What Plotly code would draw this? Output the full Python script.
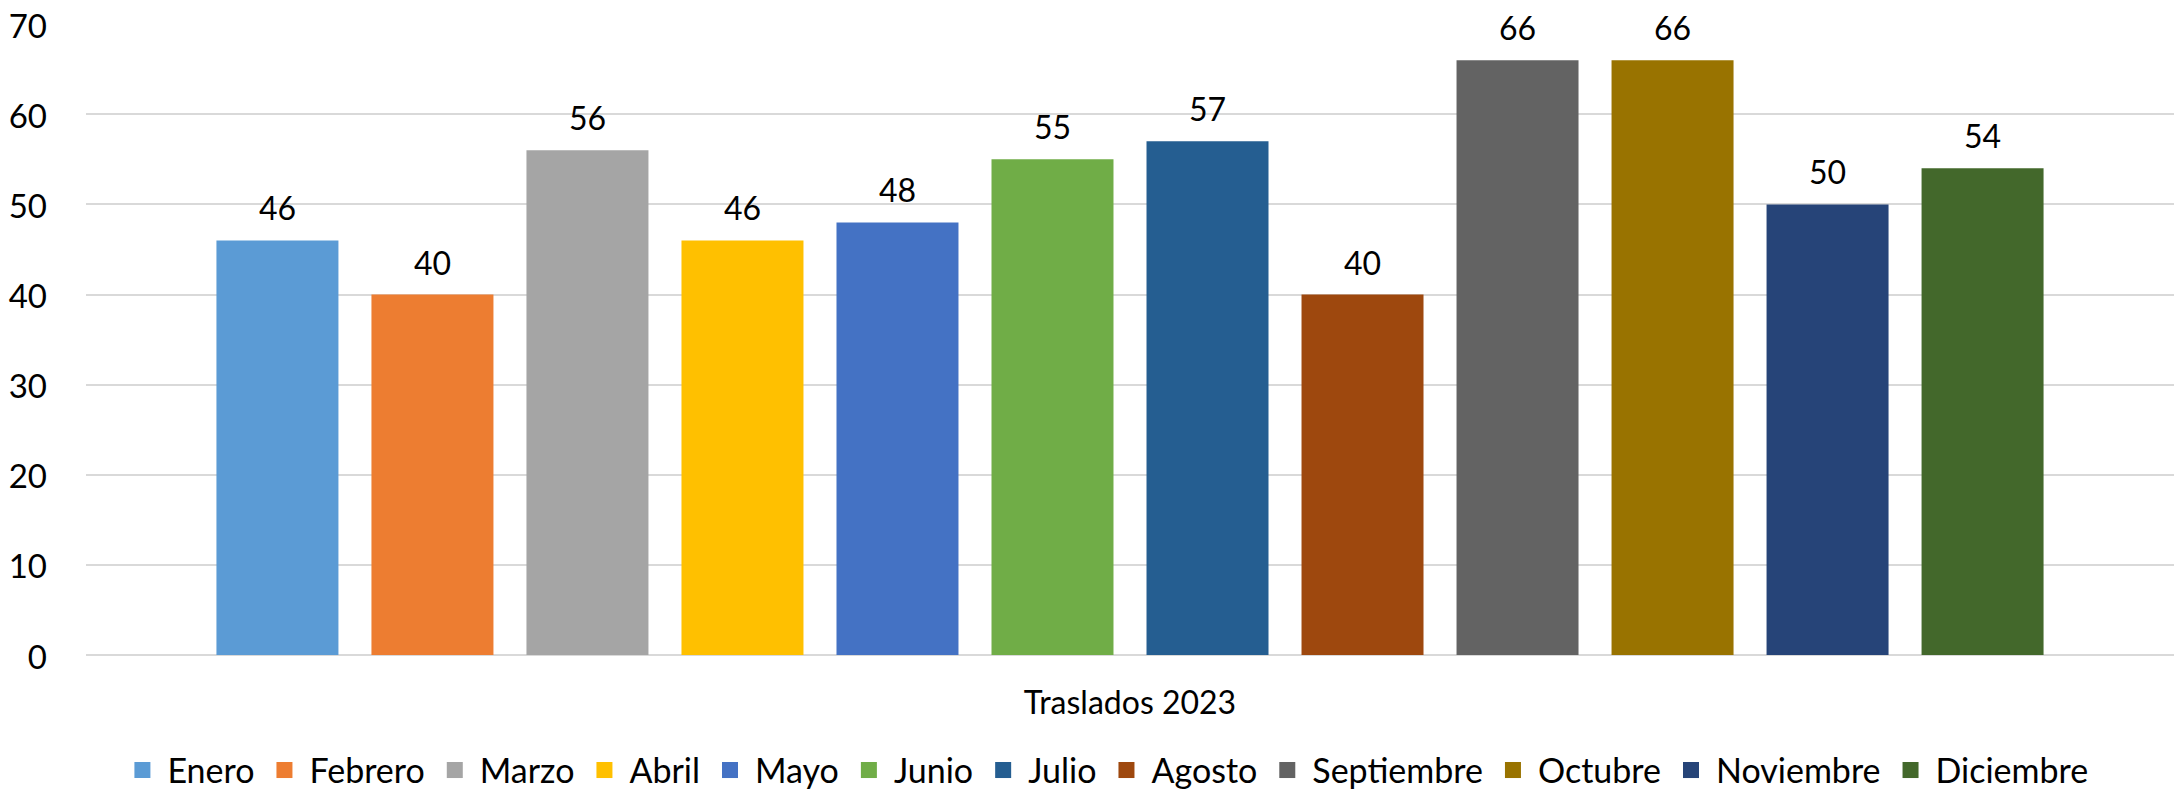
import plotly.graph_objects as go

category = ["Traslados 2023"]
months = ["Enero", "Febrero", "Marzo", "Abril", "Mayo", "Junio", "Julio",
          "Agosto", "Septiembre", "Octubre", "Noviembre", "Diciembre"]
values = [46, 40, 56, 46, 48, 55, 57, 40, 66, 66, 50, 54]
colors = ["#5B9BD5", "#ED7D31", "#A5A5A5", "#FFC000", "#4472C4", "#70AD47",
          "#255E91", "#9E480E", "#636363", "#997300", "#264478", "#43682B"]
y_ticks = [0, 10, 20, 30, 40, 50, 60, 70]

FONT = "Lato"
FS = 32
positions = list(range(len(months)))
center = (positions[0] + positions[-1]) / 2

fig = go.Figure()
for p, m, v, c in zip(positions, months, values, colors):
    fig.add_trace(go.Bar(
        x=[p], y=[v], name=m, marker_color=c, marker_line_width=0,
        width=0.787, showlegend=False, legendgroup=m,
    ))
    fig.add_annotation(x=p, y=v, text=str(v), showarrow=False,
                       yanchor="bottom", yshift=11,
                       font=dict(family=FONT, size=FS, color="#000000"))
# legend entries with larger square swatches
for m, c in zip(months, colors):
    fig.add_trace(go.Scatter(
        x=[None], y=[None], mode="markers", name=m, legendgroup=m,
        marker=dict(symbol="square", size=16, color=c),
        showlegend=True,
    ))

fig.update_layout(
    width=2176, height=791,
    margin=dict(l=86, r=2, t=24, b=136),
    paper_bgcolor="white", plot_bgcolor="white",
    barmode="overlay",
    font=dict(family=FONT, size=FS, color="#000000"),
    showlegend=True,
    legend=dict(orientation="h", xref="container", x=0.508, xanchor="center",
                yref="container", y=0.026, yanchor="middle",
                font=dict(family=FONT, size=34, color="#000000"),
                itemwidth=40, tracegroupgap=0),
    xaxis=dict(range=[center - 6.735, center + 6.735], tickvals=[center],
               ticktext=category, showgrid=False, showline=False,
               zeroline=False, ticks="", ticklabelstandoff=26,
               automargin=False, tickfont=dict(family=FONT, size=FS)),
    yaxis=dict(range=[0, 70.02], tickvals=y_ticks, showgrid=True,
               gridcolor="#D9D9D9", gridwidth=2, zeroline=True,
               zerolinecolor="#D9D9D9", zerolinewidth=2, showline=False,
               ticks="", ticklabelstandoff=38, automargin=False,
               ticklabeloverflow="allow", ticklabelshift=2,
               tickfont=dict(family=FONT, size=33)),
)
fig.write_html("out.html", config={"displayModeBar": False},
               post_script="document.body.style.margin='0';"
                           "document.body.style.overflow='hidden';")
